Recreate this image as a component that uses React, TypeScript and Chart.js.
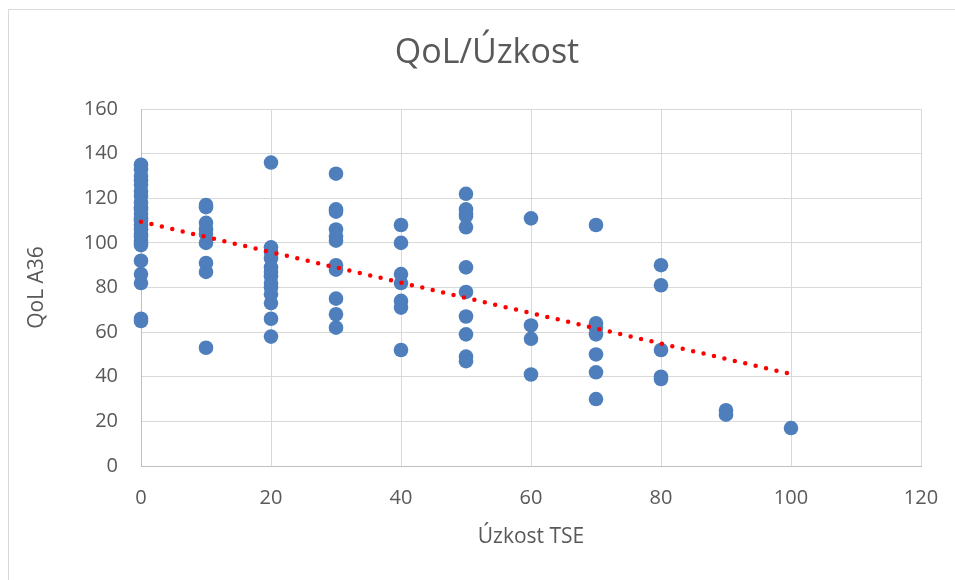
import React, { useEffect, useRef } from "react";
import { Chart, registerables } from "chart.js";

Chart.register(...registerables);

// Úzkost TSE categories (x) and QoL A36 values (y) per category
const anxietyLevels = [0, 10, 20, 30, 40, 50, 60, 70, 80, 90, 100];
const qolAt0 = [135, 133, 130, 128, 126, 123, 121, 118, 116, 115, 113, 111, 110, 108, 106, 104, 103, 101, 100, 99, 92, 86, 82, 66, 65];
const qolAt10 = [117, 116, 109, 106, 104, 100, 91, 87, 53];
const qolAt20 = [136, 98, 96, 93, 89, 87, 85, 82, 80, 77, 73, 66, 58];
const qolAt30 = [131, 115, 114, 106, 103, 101, 90, 88, 75, 68, 62];
const qolAt40 = [108, 100, 86, 82, 74, 71, 52];
const qolAt50 = [122, 115, 113, 112, 107, 89, 78, 67, 59, 49, 47];
const qolAt60 = [111, 63, 57, 41];
const qolAt70 = [108, 64, 62, 59, 50, 42, 30];
const qolAt80 = [90, 81, 52, 40, 39];
const qolAt90 = [25, 23];
const qolAt100 = [17];
const qolGroups = [qolAt0, qolAt10, qolAt20, qolAt30, qolAt40, qolAt50, qolAt60, qolAt70, qolAt80, qolAt90, qolAt100];

// Linear trendline
const trendX = [0, 100];
const trendY = [109.5, 41.2];

const xTicks = [0, 20, 40, 60, 80, 100, 120];
const yTicks = [0, 20, 40, 60, 80, 100, 120, 140, 160];

const FONT = "'Open Sans', 'Noto Sans', sans-serif";
const TEXT = "#595959";

export default function App() {
  const ref = useRef<HTMLCanvasElement | null>(null);

  useEffect(() => {
    if (!ref.current) return;
    const points = anxietyLevels.flatMap((x, i) => qolGroups[i].map((y) => ({ x, y })));
    const trend = trendX.map((x, i) => ({ x, y: trendY[i] }));
    const chart = new Chart(ref.current, {
      type: "scatter",
      data: {
        datasets: [
          {
            label: "Trend",
            data: trend,
            showLine: true,
            borderColor: "#ff0000",
            backgroundColor: "#ff0000",
            borderWidth: 4.5,
            borderDash: [0, 10.7],
            borderCapStyle: "round",
            pointRadius: 0,
            order: 0,
            clip: false,
          } as any,
          {
            label: "QoL A36",
            data: points,
            backgroundColor: "#4e7fbc",
            borderColor: "#4e7fbc",
            borderWidth: 0,
            pointRadius: 7.3,
            order: 1,
            clip: false,
          } as any,
        ],
      },
      options: {
        responsive: false,
        animation: false,
        layout: { padding: { left: 10, right: 0, top: 0, bottom: 0 } },
        plugins: {
          legend: { display: false },
          tooltip: { enabled: false },
          title: {
            display: true,
            text: "QoL/Úzkost",
            color: TEXT,
            font: { family: FONT, size: 34, weight: "normal" },
            padding: { top: 23, bottom: 35.2 },
          },
        },
        scales: {
          x: {
            type: "linear",
            min: 0,
            max: 120,
            afterBuildTicks: (s: any) => {
              s.ticks = xTicks.map((v) => ({ value: v }));
            },
            ticks: { color: TEXT, font: { family: FONT, size: 20 }, padding: 20 },
            grid: { color: "#d9d9d9", drawTicks: false },
            border: { color: "#bfbfbf" },
            title: {
              display: true,
              text: "Úzkost TSE",
              color: TEXT,
              font: { family: FONT, size: 21 },
              padding: { top: 0, bottom: 30 },
            },
            afterFit: (s: any) => {
              s.height = 114;
              s.paddingLeft = 0;
              s.paddingRight = 0;
            },
          },
          y: {
            type: "linear",
            min: 0,
            max: 160,
            afterBuildTicks: (s: any) => {
              s.ticks = yTicks.map((v) => ({ value: v }));
            },
            ticks: { color: TEXT, font: { family: FONT, size: 20 }, padding: 23 },
            grid: { color: "#d9d9d9", drawTicks: false },
            border: { color: "#bfbfbf" },
            title: {
              display: true,
              text: "QoL A36",
              color: TEXT,
              font: { family: FONT, size: 21 },
              padding: { top: 5, bottom: 0 },
            },
            afterFit: (s: any) => {
              s.width = 122;
            },
          },
          yRight: {
            type: "linear",
            position: "right",
            display: true,
            ticks: { display: false },
            grid: { display: false, drawTicks: false },
            border: { display: false },
            afterFit: (s: any) => {
              s.width = 34;
            },
          },
        },
      },
    });
    return () => chart.destroy();
  }, []);

  return (
    <div
      style={{
        position: "fixed",
        top: 9,
        left: 8,
        width: 947,
        height: 571,
        borderTop: "1px solid #d9d9d9",
        borderLeft: "1px solid #d9d9d9",
        background: "#ffffff",
      }}
    >
      <canvas ref={ref} width={946} height={570} style={{ display: "block" }} />
    </div>
  );
}
